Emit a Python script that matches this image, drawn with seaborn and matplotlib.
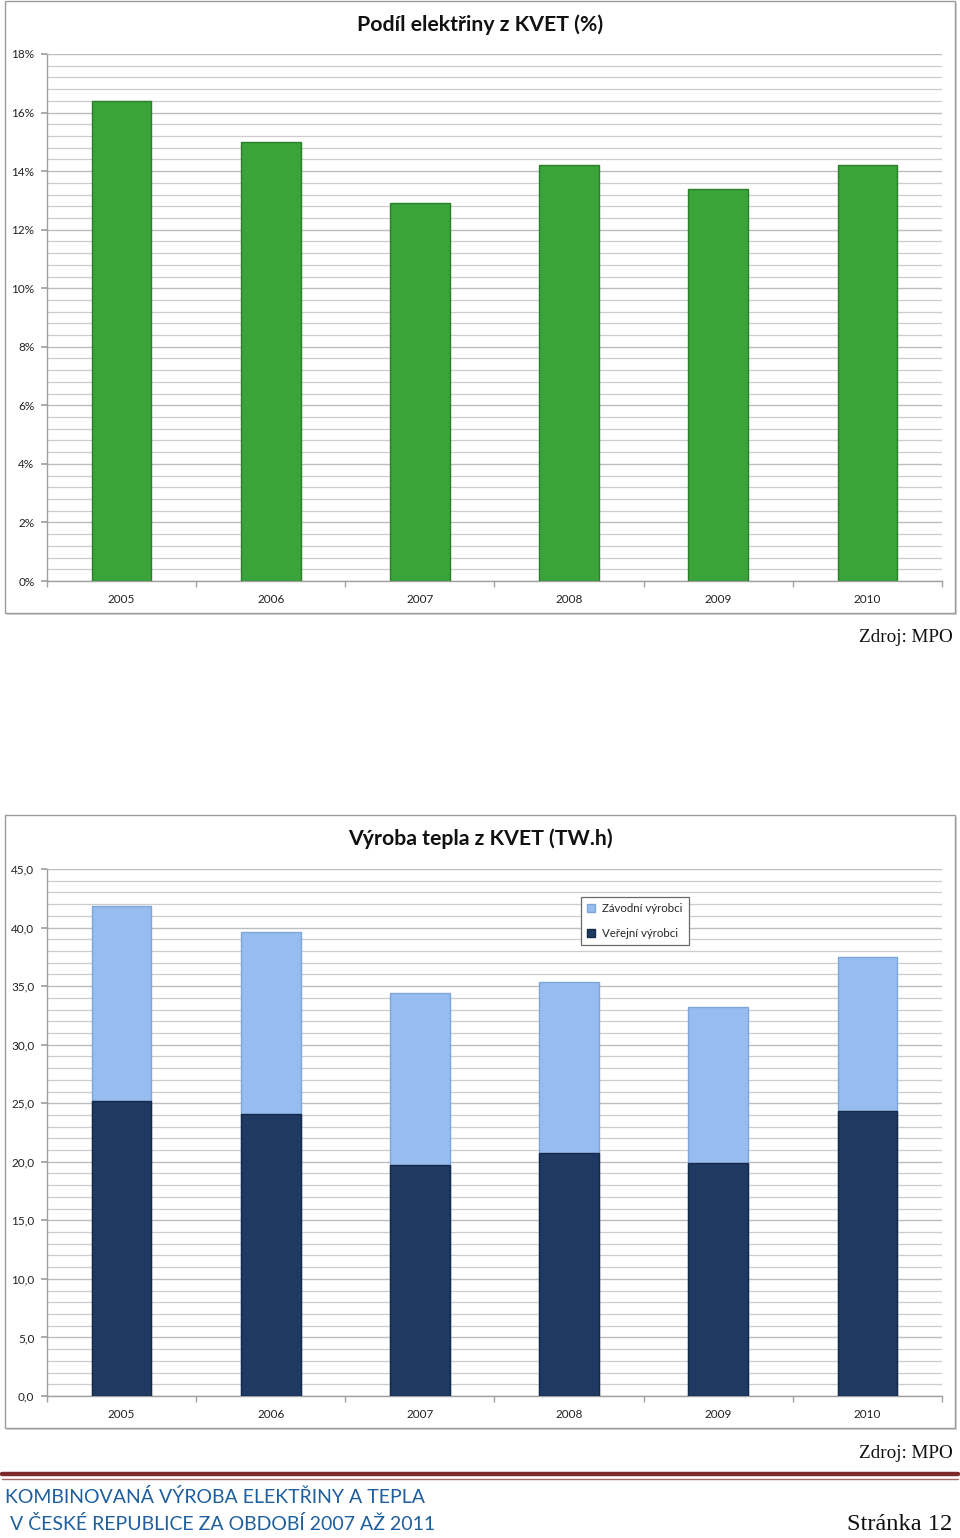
import matplotlib
matplotlib.use("Agg")
import matplotlib.pyplot as plt
import seaborn as sns
import pandas as pd
import numpy as np
from matplotlib.patches import Rectangle
from matplotlib.lines import Line2D
from matplotlib.ticker import MultipleLocator, FuncFormatter

# ---- data ----
years = ["2005", "2006", "2007", "2008", "2009", "2010"]
share_pct = [16.4, 15.0, 12.9, 14.2, 13.4, 14.2]
verejni = [25.2, 24.1, 19.7, 20.75, 19.9, 24.3]
zavodni = [16.6, 15.5, 14.7, 14.6, 13.3, 13.2]

title_top = "Podíl elektřiny z KVET (%)"
title_bottom = "Výroba tepla z KVET (TW.h)"
legend_labels = ["Závodní výrobci", "Veřejní výrobci"]
footer_1 = "KOMBINOVANÁ VÝROBA ELEKTŘINY A TEPLA"
footer_2 = " V ČESKÉ REPUBLICE ZA OBDOBÍ 2007 AŽ 2011"
source = "Zdroj: MPO"
page = "Stránka 12"

sns.set_theme(style="white")
plt.rcParams['font.family'] = ['Lato', 'DejaVu Sans']

GREEN = "#3aa33a"
GREEN_EDGE = "#2b7f2b"
DARK = "#1e3a62"
LIGHT = "#97bdf0"
AXC = "#a0a0a0"

W, H = 960, 1538
fig = plt.figure(figsize=(W / 100, H / 100), dpi=100)


def fx(px):
    return px / W


def fy(py):
    return 1 - py / H


# panel borders
for (x0, y0, x1, y1) in [(5, 1, 955, 613), (5, 815, 955, 1428)]:
    fig.patches.append(Rectangle((fx(x0 + 2), fy(y1 + 2)), fx(x1 - x0), (y1 - y0) / H,
                                 transform=fig.transFigure, facecolor="#d8d8d8",
                                 edgecolor="none", zorder=-2))
    fig.patches.append(Rectangle((fx(x0), fy(y1)), fx(x1 - x0), (y1 - y0) / H,
                                 transform=fig.transFigure, facecolor="white",
                                 edgecolor="#9a9a9a", linewidth=1.0, zorder=-1))


def style_axes(ax, ymax, major, minor, fmt):
    ax.set_ylim(0, ymax)
    ax.set_xlim(-0.5, len(years) - 0.5)
    ax.yaxis.set_major_locator(MultipleLocator(major))
    ax.yaxis.set_minor_locator(MultipleLocator(minor))
    ax.yaxis.set_major_formatter(FuncFormatter(fmt))
    ax.grid(True, which="major", axis="y", color="#bdbdbd", linewidth=1.0)
    ax.grid(True, which="minor", axis="y", color="#cccccc", linewidth=0.9)
    ax.set_axisbelow(True)
    for s in ["top", "right"]:
        ax.spines[s].set_visible(False)
    ax.spines["left"].set_color(AXC)
    ax.spines["bottom"].set_color(AXC)
    ax.spines["left"].set_linewidth(1.0)
    ax.spines["bottom"].set_linewidth(1.0)
    ax.tick_params(axis="y", which="major", left=True, length=4, color=AXC,
                   labelsize=8.5, labelcolor="#222222", pad=5)
    ax.tick_params(axis="y", which="minor", left=False)
    ax.tick_params(axis="x", which="major", bottom=False, labelsize=8.5,
                   labelcolor="#222222", pad=3)
    ax.set_xticks(np.arange(-0.5, len(years) + 0.5, 1.0), minor=True)
    ax.tick_params(axis="x", which="minor", bottom=True, length=4, color=AXC)
    ax.set_xlabel("")
    ax.set_ylabel("")
    ax.patch.set_alpha(0)


# ---- top chart ----
ax1 = fig.add_axes([fx(47), fy(581), fx(895), 527 / H])
ax1.set_zorder(2)
df1 = pd.DataFrame({"year": years, "share": share_pct})
sns.barplot(data=df1, x="year", y="share", color=GREEN, width=0.40,
            edgecolor=GREEN_EDGE, linewidth=1.0, saturation=1, ax=ax1, zorder=3)
style_axes(ax1, 18, 2, 0.4, lambda v, p: f"{v:.0f}%")
fig.text(0.5, fy(25), title_top, ha="center", va="center", fontsize=15.3,
         fontweight="bold", color="#111111")

# ---- bottom chart ----
ax2 = fig.add_axes([fx(47), fy(1396), fx(895), 527 / H])
ax2.set_zorder(2)
totals = [a + b for a, b in zip(verejni, zavodni)]
df2 = pd.DataFrame({"year": years, "total": totals, "verejni": verejni})
sns.barplot(data=df2, x="year", y="total", color=LIGHT, width=0.40,
            edgecolor="#7fa6d8", linewidth=1.0, saturation=1, ax=ax2, zorder=3)
sns.barplot(data=df2, x="year", y="verejni", color=DARK, width=0.40,
            edgecolor="#142a48", linewidth=1.0, saturation=1, ax=ax2, zorder=4)
style_axes(ax2, 45, 5, 1.0, lambda v, p: f"{v:.1f}".replace(".", ","))
fig.text(0.5, fy(839), title_bottom, ha="center", va="center", fontsize=15.3,
         fontweight="bold", color="#111111")

handles = [Rectangle((0, 0), 1, 1, facecolor=LIGHT, edgecolor="#7fa6d8"),
           Rectangle((0, 0), 1, 1, facecolor=DARK, edgecolor="#142a48")]
leg = ax2.legend(handles, legend_labels, loc="upper left",
                 bbox_to_anchor=((581 - 47) / 895, (1396 - 897) / 527),
                 frameon=True, fancybox=False, fontsize=8.3, handlelength=0.7,
                 handleheight=0.7, handletextpad=0.6, borderpad=0.55,
                 labelspacing=1.15, borderaxespad=0)
leg.get_frame().set_edgecolor("#6a6a6a")
leg.get_frame().set_linewidth(0.9)
leg.get_frame().set_alpha(1)

# ---- source / footer ----
for yy in (638, 1453):
    fig.text(fx(953), fy(yy), source, ha="right", va="center", fontsize=13.8,
             family=["Liberation Serif"], color="#111111")

fig.add_artist(Line2D([fx(2), fx(958)], [fy(1474), fy(1474)], color="#7b2b2b",
                      linewidth=3.2, transform=fig.transFigure))
fig.add_artist(Line2D([fx(2), fx(958)], [fy(1478.5), fy(1478.5)], color="#a86a6a",
                      linewidth=1.0, transform=fig.transFigure))

fig.text(fx(5), fy(1497), footer_1, ha="left", va="center", fontsize=14,
         color="#1f5f9e", family=["Lato", "DejaVu Sans"])
fig.text(fx(5), fy(1524), footer_2, ha="left", va="center", fontsize=14,
         color="#1f5f9e", family=["Lato", "DejaVu Sans"])
fig.text(fx(952), fy(1524), page, ha="right", va="center", fontsize=17.6,
         family=["Liberation Serif"], color="#111111")

fig.savefig("out.png", dpi=100)
